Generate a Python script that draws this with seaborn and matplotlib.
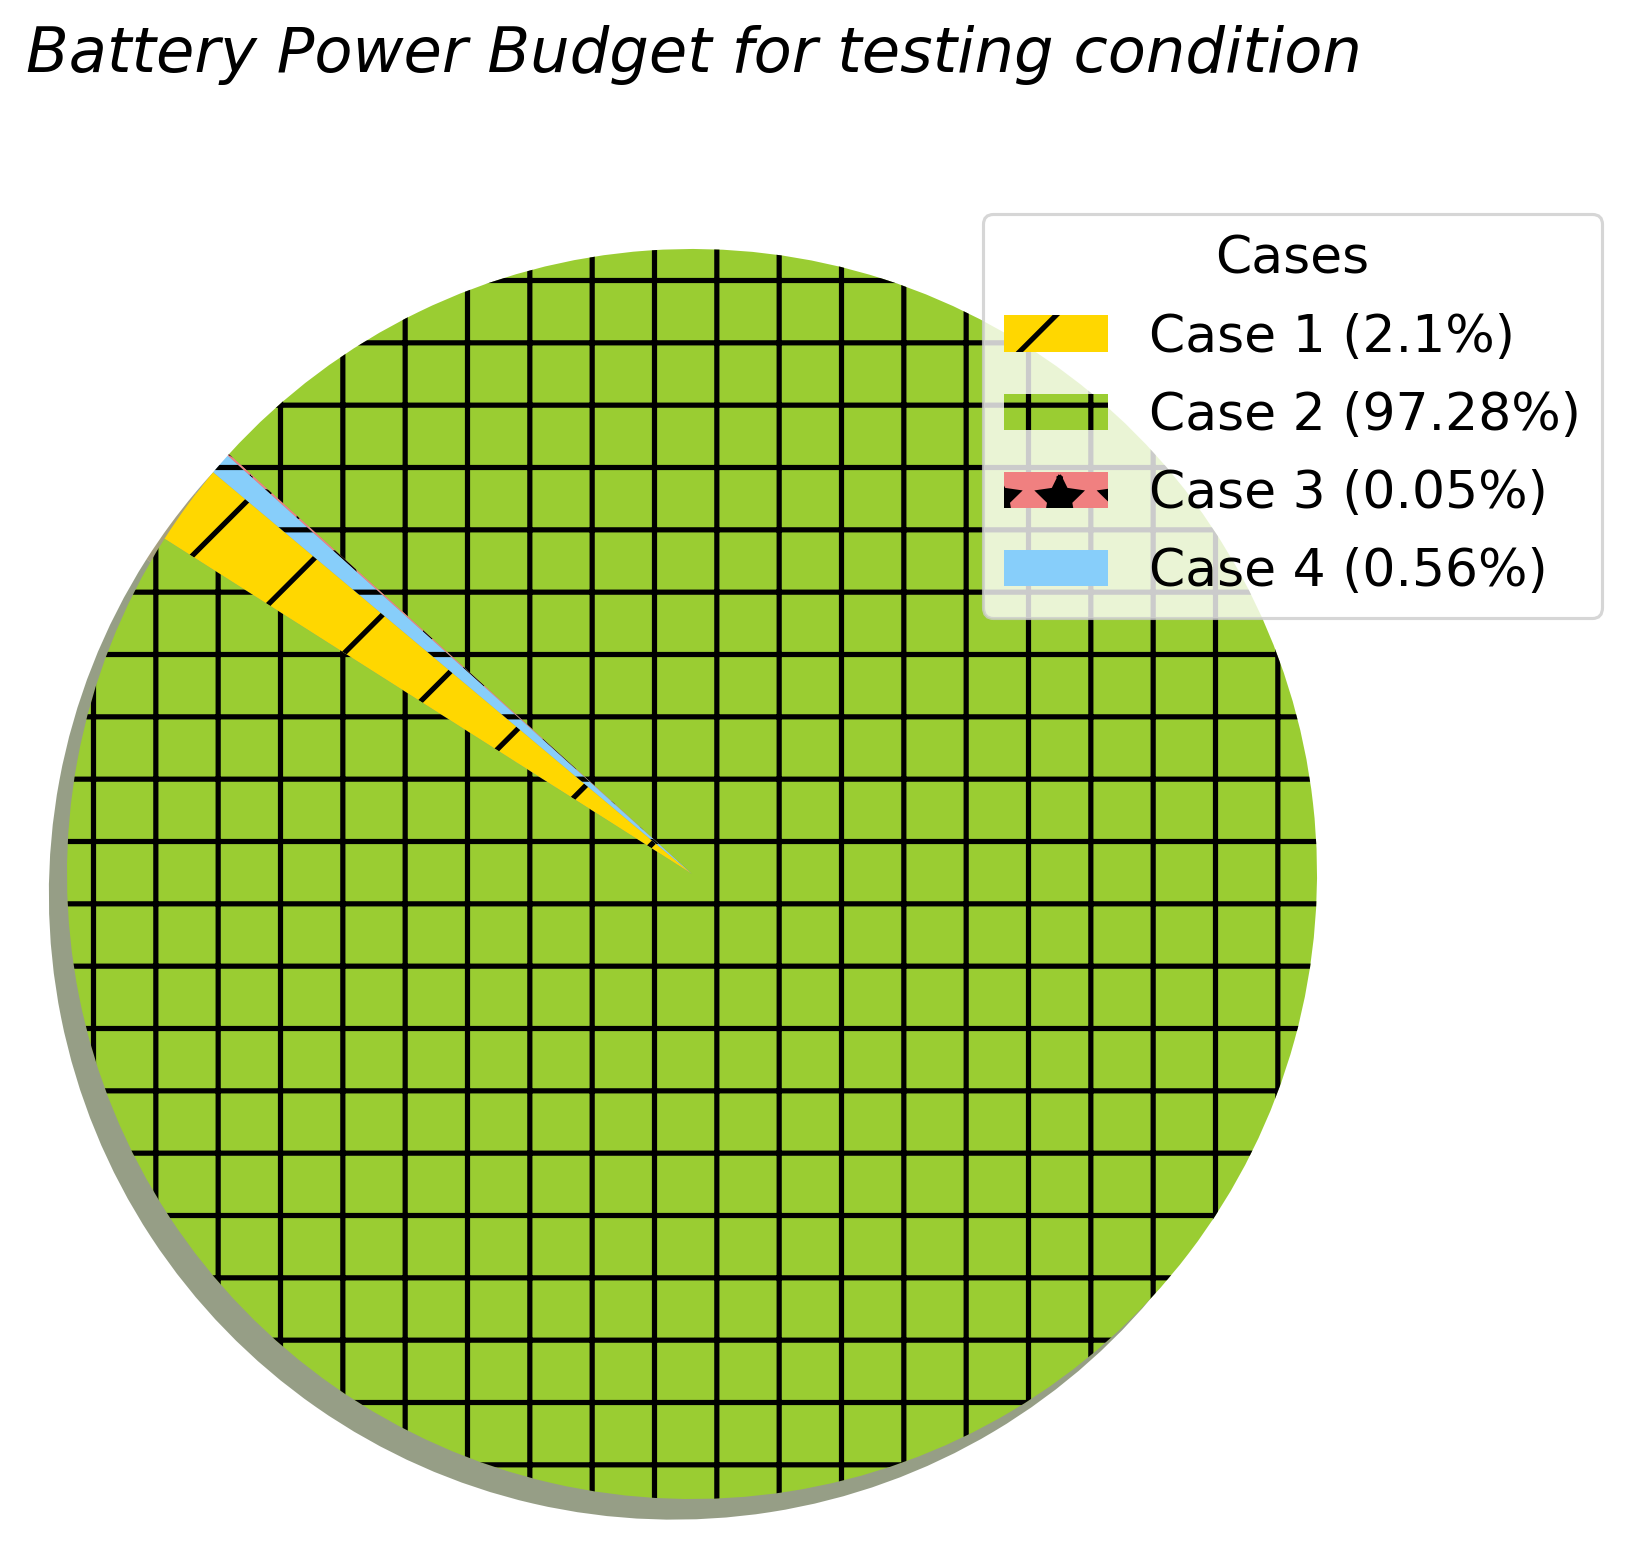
import matplotlib
matplotlib.use("Agg")
import matplotlib.pyplot as plt
import matplotlib.patches as mpatches
import seaborn as sns

# data
cases = ["Case 1", "Case 2", "Case 3", "Case 4"]
shares = [2.1, 97.28, 0.05, 0.56]
colors = ["gold", "yellowgreen", "lightcoral", "lightskyblue"]
hatches = ["/", "+", "*", "-"]

sns.set_style("white", rc={"patch.force_edgecolor": False})
plt.rcParams["font.family"] = ["DejaVu Sans"]
plt.rcParams["text.color"] = "black"
plt.rcParams["hatch.linewidth"] = 1.0

DPI = 374
W, H = 1636, 1560
fig = plt.figure(figsize=(W / DPI, H / DPI), dpi=DPI)

# pie centre and radius in pixels
cx, cy, r = 692, 874, 625
lim = 1.1
side = 2 * lim * r
ax = fig.add_axes([(cx - side / 2) / W, (H - cy - side / 2) / H, side / W, side / H])

wedges, _ = ax.pie(
    shares,
    colors=colors,
    startangle=140,
    hatch=hatches,
    shadow={"ox": -0.029 * 72 / DPI, "oy": -0.033 * 72 / DPI},
    wedgeprops={"linewidth": 0},
)
# shadows come out plain, without the hatch
for p in ax.patches:
    if isinstance(p, mpatches.Shadow):
        p.set_hatch(None)
ax.set_xlim(-lim, lim)
ax.set_ylim(-lim, lim)
ax.set_aspect("equal")

labels = [f"{c} ({s}%)" for c, s in zip(cases, shares)]
leg = ax.legend(
    wedges,
    labels,
    title="Cases",
    loc="upper left",
    bbox_to_anchor=(983 / W, 1 - 214 / H),
    bbox_transform=fig.transFigure,
    borderaxespad=0,
    fontsize=10,
    title_fontsize=10,
    labelspacing=0.54,
    frameon=True,
)
leg.get_frame().set_linewidth(0.6)

fig.text(26 / W, 1 - 72 / H, "Battery Power Budget for testing condition",
         fontsize=12, style="italic", ha="left", va="baseline")

fig.savefig("out.png", dpi=DPI)
